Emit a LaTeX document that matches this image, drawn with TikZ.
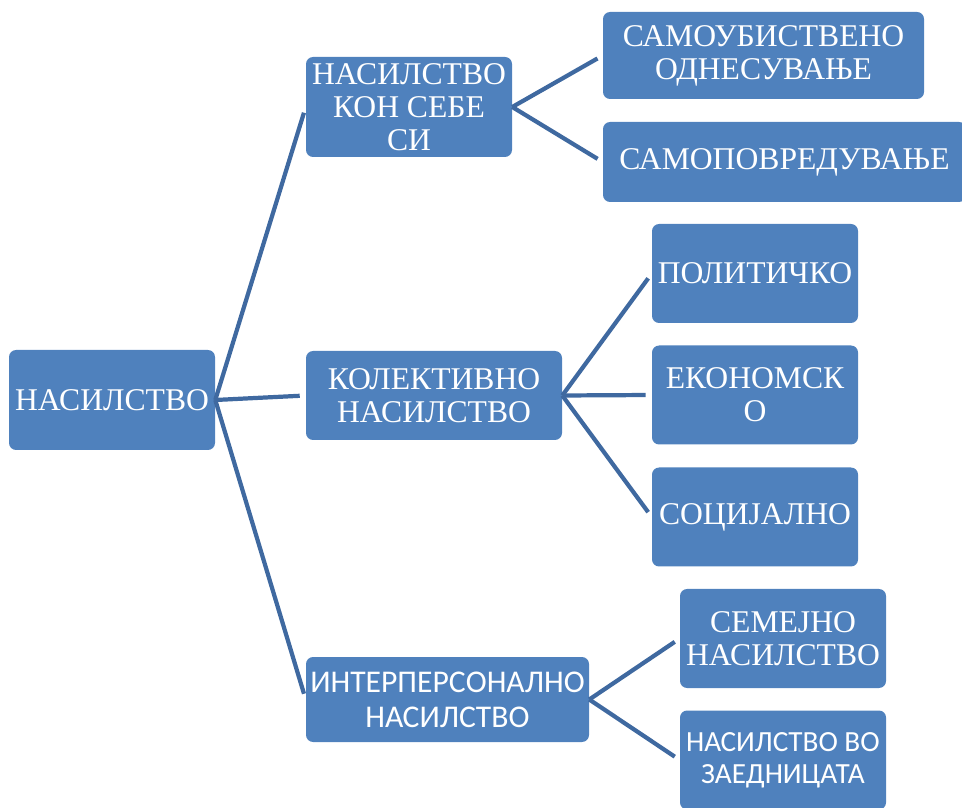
\documentclass[tikz,border=0pt]{standalone}
\usepackage{fontspec}
\newfontfamily\timesfont{Liberation Serif}[Script=Cyrillic]
\newfontfamily\calibrifont{Carlito}[Script=Cyrillic]
\usepackage{xcolor}
\definecolor{box-blue}{HTML}{4F81BD}
\definecolor{line-blue}{HTML}{3F69A0}

\begin{document}
\begin{tikzpicture}[
    box/.style={draw=none, fill=box-blue, rounded corners=5pt, align=center,
                text=white, inner sep=0pt,
                font=\timesfont\fontsize{22.5}{23.5}\selectfont},
    sansbox/.style={box, font=\calibrifont\fontsize{22.5}{25}\selectfont},
    link/.style={draw=line-blue, line width=3pt, shorten >=0.15cm}]
    % Tree: root on the left, three groups in the middle, leaves on the right.
    % Coordinates: (x, y), 1 px of the layout = 0.025cm, page 24.05cm x 20.175cm
    %   root at (2.8,10.175), middle column x=10.2..11.2, leaves x=18.9..19.6
    \useasboundingbox (0,0) rectangle (24.05,20.175);
    \node[box, minimum width=5.15cm, minimum height=2.5cm] (root)
          at (2.8,10.175) {НАСИЛСТВО};
    \node[box, minimum width=5.15cm, minimum height=2.5cm] (self)
          at (10.225,17.5) {НАСИЛСТВО\\КОН СЕБЕ\\СИ};
    \node[box, minimum width=6.4cm, minimum height=2.225cm] (coll)
          at (10.85,10.2875) {КОЛЕКТИВНО\\НАСИЛСТВО};
    \node[sansbox, minimum width=7.075cm, minimum height=2.125cm] (inter)
          at (11.1875,2.6875) {ИНТЕРПЕРСОНАЛНО\\НАСИЛСТВО};
    % leaves of the first group
    \node[box, minimum width=8.025cm, minimum height=2.175cm] (suicide)
          at (19.0875,18.7875) {САМОУБИСТВЕНО\\ОДНЕСУВАЊЕ};
    \node[box, minimum width=9.075cm, minimum height=2cm] (harm)
          at (19.6125,16.125) {САМОПОВРЕДУВАЊЕ};
    % leaves of the second group
    \node[box, minimum width=5.15cm, minimum height=2.475cm] (polit)
          at (18.875,13.3375) {ПОЛИТИЧКО};
    \node[box, minimum width=5.15cm, minimum height=2.475cm] (econ)
          at (18.875,10.3) {ЕКОНОМСК\\О};
    \node[box, minimum width=5.15cm, minimum height=2.475cm] (social)
          at (18.875,7.25) {СОЦИЈАЛНО};
    % leaves of the third group
    \node[box, minimum width=5.15cm, minimum height=2.475cm] (family)
          at (19.575,4.2125) {СЕМЕЈНО\\НАСИЛСТВО};
    \node[sansbox, minimum width=5.15cm, minimum height=2.475cm,
          font=\calibrifont\fontsize{20.8}{22.8}\selectfont] (commun)
          at (19.575,1.175) {НАСИЛСТВО ВО\\ЗАЕДНИЦАТА};
    % connectors
    \draw[link] (root.east) -- (self.west);
    \draw[link] (root.east) -- (coll.west);
    \draw[link] (root.east) -- (inter.west);
    \draw[link] (self.east) -- (suicide.west);
    \draw[link] (self.east) -- (harm.west);
    \draw[link] (coll.east) -- (polit.west);
    \draw[link] (coll.east) -- (econ.west);
    \draw[link] (coll.east) -- (social.west);
    \draw[link] (inter.east) -- (family.west);
    \draw[link] (inter.east) -- (commun.west);
  \end{tikzpicture}
\end{document}
